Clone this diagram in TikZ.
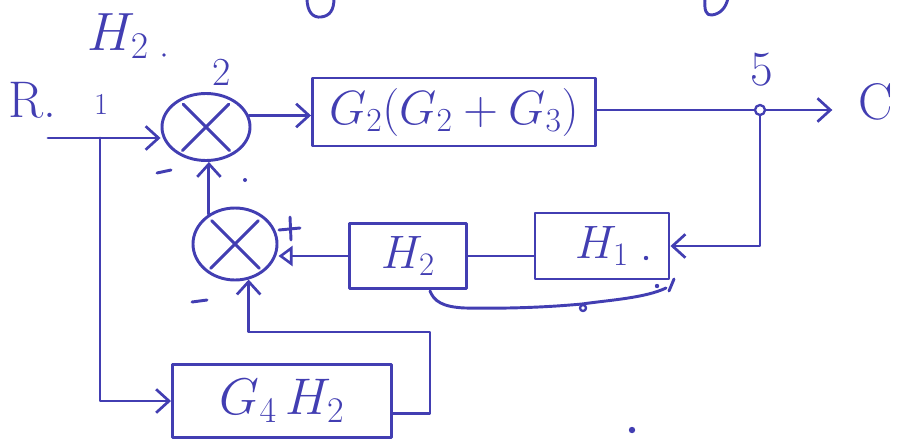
\RequirePackage{fix-cm}
\documentclass[tikz,border=0pt]{standalone}
\usetikzlibrary{arrows.meta,shapes.geometric}
\definecolor{ink}{RGB}{66,62,178}
\begin{document}
\begin{tikzpicture}[x=0.03cm,y=-0.03cm, line width=2.5pt, draw=ink, text=ink,
  line cap=round, line join=round,
  blk/.style={draw, rectangle, inner sep=0pt},
  junc/.style={draw, ellipse, inner sep=0pt},
  barb/.style={-{Straight Barb[length=11pt,width=20pt,line width=2.3pt]}},
  tri/.style={-{Triangle[open,length=12pt,width=17pt,line width=2.2pt]}},
  sign/.style={line width=2.5pt}]
\useasboundingbox (0,0) rectangle (902,443);

% summing junctions
\node[junc, minimum width=2.64cm, minimum height=2.01cm] (j1) at (206,127) {};
\draw[shorten <=6pt, shorten >=5pt] (j1.135) -- (j1.-45);
\draw[shorten <=6pt, shorten >=5pt] (j1.45) -- (j1.-135);
\node[junc, minimum width=2.52cm, minimum height=2.16cm] (j2) at (235,244) {};
\draw[shorten <=6pt, shorten >=5pt] (j2.135) -- (j2.-45);
\draw[shorten <=6pt, shorten >=5pt] (j2.45) -- (j2.-135);

% blocks
\node[blk, font=\fontsize{41}{46}\selectfont, minimum width=8.49cm, minimum height=2.04cm] (b1) at (454,112) {$G_2(G_2+G_3)$};
\node[blk, font=\fontsize{40}{46}\selectfont, minimum width=4.02cm, minimum height=1.98cm] (h1) at (602,246) {$H_1$};
\node[blk, font=\fontsize{40}{46}\selectfont, minimum width=3.51cm, minimum height=1.95cm] (h2) at (408,256) {$H_2$};
\node[blk, font=\fontsize{44}{50}\selectfont, minimum width=6.57cm, minimum height=2.19cm] (g4) at (282,401) {$G_4\,H_2$};

% take-off point and labels
\node[draw, circle, minimum size=0.3cm, inner sep=0pt, line width=2pt] (tp) at (760,110) {};
\node[font=\fontsize{46}{52}\selectfont] (Htop) at (118,36) {$H_2$};
\node[font=\fontsize{44}{50}\selectfont] (R) at (32,100) {R.};
\node[font=\fontsize{26}{30}\selectfont] (n1) at (101,104) {1};
\node[font=\fontsize{34}{40}\selectfont] (n2) at (222,72) {2};
\node[font=\fontsize{42}{48}\selectfont] (n5) at (762,70) {5};
\node[font=\fontsize{44}{50}\selectfont] (C) at (876,102) {C};

% wiring
\coordinate (in) at (48,138);
\coordinate (br) at (100,138);
\coordinate (c1) at (430,332);
\draw (in) -- (br);
\draw[barb] (br) -- (br -| j1.west);
\draw[barb] (br) |- (g4.west);
\draw[barb] (j1.15) -- (j1.15 -| b1.west);
\draw (b1.east |- tp) -- (tp);
\draw[barb, shorten >=18pt] (tp) -- (tp -| C.west);
\draw[barb] (tp.south) |- (h1.east);
\draw (h2.east) -- (h2.east -| h1.west);
\draw[tri] (h2.west) -- (h2.west -| j2.east);
\draw[barb] (j2.131) -- (j2.131 |- j1.south);
\draw[barb] ([yshift=-11pt]g4.east) -| (c1) -| (j2.291);

% signs
\draw[sign] (157,173) -- (171,170);
\draw[sign] (192,302) -- (207,300);
\draw[sign] (279,230) -- (300,228);
\draw[sign] (290,217) -- (291,240);

% grouping brace under the feedback blocks
\draw (430,291) .. controls (434,301) and (442,307) .. (465,308)
      .. controls (520,309) and (560,306) .. (582,304)
      .. controls (610,300) and (645,298) .. (666,288);
\draw[line width=2pt] (583,308) circle (3);
\draw (674,279) -- (669,291);

% stray marks
\fill[ink] (657,286) circle (2.2);
\fill[ink] (646,258) circle (2.2);
\fill[ink] (245,180) circle (2);
\fill[ink] (164,55) circle (1.8);
\fill[ink] (632,430) circle (3.2);

% letters cut at the top edge
\draw (307,-2) .. controls (307,12) and (313,18) .. (321,17) .. controls (330,16) and (334,10) .. (334,-2);
\draw (705,-2) .. controls (704,10) and (706,16) .. (712,15) .. controls (720,14) and (726,8) .. (728,-2);
\end{tikzpicture}
\end{document}
